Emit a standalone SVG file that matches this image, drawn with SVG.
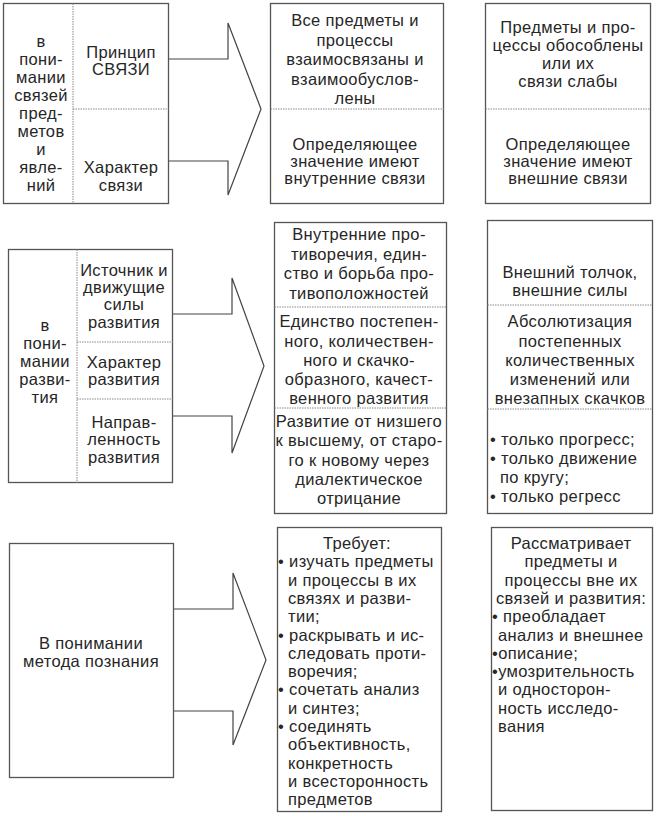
<svg xmlns="http://www.w3.org/2000/svg" width="657" height="816" viewBox="0 0 657 816">
<style>
.box{fill:#fff;stroke:#555;stroke-width:1.3}
.div{fill:none;stroke:#888;stroke-width:1;stroke-dasharray:1.5 1}
.arr{fill:#fff;stroke:#444;stroke-width:1.2;stroke-linejoin:miter}
text{font-family:"Liberation Sans",Arial,sans-serif;font-size:16.5px;letter-spacing:0.35px;fill:#262626}
.c{text-anchor:middle}
</style>
<rect width="657" height="816" fill="#fff"/>

<g id="connectors">
<path class="arr" d="M168,59 H228 V23 L261,109 L228,195 V161 H168"/>
<path class="arr" d="M172,314 H232 V278 L264,366 L232,453 V416 H172"/>
<path class="arr" d="M173,609 H233 V573 L266,660 L233,745 V711 H173"/>
</g>

<g id="n1-left">
<rect class="box" x="3.5" y="3.5" width="165" height="200"/>
<line class="div" x1="73" y1="3.5" x2="73" y2="203.5"/>
<line class="div" x1="73" y1="109" x2="168.5" y2="109"/>
<text class="c"><tspan x="41" y="47">в</tspan><tspan x="41" y="65">пони-</tspan><tspan x="41" y="83">мании</tspan><tspan x="41" y="101">связей</tspan><tspan x="41" y="119">пред-</tspan><tspan x="41" y="137">метов</tspan><tspan x="41" y="155">и</tspan><tspan x="41" y="173">явле-</tspan><tspan x="41" y="191">ний</tspan></text>
<text class="c"><tspan x="121" y="58">Принцип</tspan><tspan x="121" y="75">СВЯЗИ</tspan></text>
<text class="c"><tspan x="121" y="173">Характер</tspan><tspan x="121" y="191">связи</tspan></text>
</g>

<g id="n1-mid">
<rect class="box" x="270.5" y="3.5" width="173" height="200"/>
<line class="div" x1="270.5" y1="109" x2="443.5" y2="109"/>
<text class="c"><tspan x="355" y="26">Все предметы и</tspan><tspan x="355" y="45.5">процессы</tspan><tspan x="355" y="65">взаимосвязаны и</tspan><tspan x="355" y="84.5">взаимообуслов-</tspan><tspan x="355" y="104">лены</tspan></text>
<text class="c"><tspan x="355" y="150">Определяющее</tspan><tspan x="355" y="167">значение имеют</tspan><tspan x="355" y="184">внутренние связи</tspan></text>
</g>

<g id="n1-right">
<rect class="box" x="485.5" y="3.5" width="165" height="200"/>
<line class="div" x1="485.5" y1="109" x2="650.5" y2="109"/>
<text class="c"><tspan x="568" y="33">Предметы и про-</tspan><tspan x="568" y="51">цессы обособлены</tspan><tspan x="568" y="69">или их</tspan><tspan x="568" y="87">связи слабы</tspan></text>
<text class="c"><tspan x="568" y="150">Определяющее</tspan><tspan x="568" y="167">значение имеют</tspan><tspan x="568" y="184">внешние связи</tspan></text>
</g>

<g id="n2-left">
<rect class="box" x="8.5" y="249.5" width="164" height="233"/>
<line class="div" x1="77" y1="249.5" x2="77" y2="482.5"/>
<line class="div" x1="77" y1="342" x2="172.5" y2="342"/>
<line class="div" x1="77" y1="399" x2="172.5" y2="399"/>
<text class="c"><tspan x="45" y="331">в</tspan><tspan x="45" y="349">пони-</tspan><tspan x="45" y="367">мании</tspan><tspan x="45" y="385">разви-</tspan><tspan x="45" y="403">тия</tspan></text>
<text class="c"><tspan x="124" y="276">Источник и</tspan><tspan x="124" y="293">движущие</tspan><tspan x="124" y="310">силы</tspan><tspan x="124" y="328">развития</tspan></text>
<text class="c"><tspan x="124" y="368">Характер</tspan><tspan x="124" y="385">развития</tspan></text>
<text class="c"><tspan x="124" y="428">Направ-</tspan><tspan x="124" y="445">ленность</tspan><tspan x="124" y="463">развития</tspan></text>
</g>

<g id="n2-mid">
<rect class="box" x="274.5" y="222.5" width="172" height="291"/>
<line class="div" x1="274.5" y1="307" x2="446.5" y2="307"/>
<line class="div" x1="274.5" y1="408" x2="446.5" y2="408"/>
<text class="c"><tspan x="359" y="240">Внутренние про-</tspan><tspan x="359" y="259.5">тиворечия, един-</tspan><tspan x="359" y="279">ство и борьба про-</tspan><tspan x="359" y="298.5">тивоположностей</tspan></text>
<text class="c"><tspan x="359" y="327">Единство постепен-</tspan><tspan x="359" y="346.5">ного, количествен-</tspan><tspan x="359" y="366">ного и скачко-</tspan><tspan x="359" y="385">образного, качест-</tspan><tspan x="359" y="404">венного развития</tspan></text>
<text class="c"><tspan x="359" y="427">Развитие от низшего</tspan><tspan x="359" y="446">к высшему, от старо-</tspan><tspan x="359" y="465.5">го к новому через</tspan><tspan x="359" y="485">диалектическое</tspan><tspan x="359" y="504">отрицание</tspan></text>
</g>

<g id="n2-right">
<rect class="box" x="487.5" y="220.5" width="165" height="293"/>
<line class="div" x1="487.5" y1="305" x2="652.5" y2="305"/>
<line class="div" x1="487.5" y1="409" x2="652.5" y2="409"/>
<text class="c"><tspan x="570" y="278">Внешний толчок,</tspan><tspan x="570" y="296">внешние силы</tspan></text>
<text class="c"><tspan x="570" y="327">Абсолютизация</tspan><tspan x="570" y="346.5">постепенных</tspan><tspan x="570" y="366">количественных</tspan><tspan x="570" y="385">изменений или</tspan><tspan x="570" y="404">внезапных скачков</tspan></text>
<text><tspan x="490" y="445">• только прогресс;</tspan><tspan x="490" y="464">• только движение</tspan><tspan x="500" y="483">по кругу;</tspan><tspan x="490" y="502">• только регресс</tspan></text>
</g>

<g id="n3-left">
<rect class="box" x="9.5" y="543.5" width="164" height="234"/>
<text class="c"><tspan x="91" y="649">В понимании</tspan><tspan x="91" y="667">метода познания</tspan></text>
</g>

<g id="n3-mid">
<rect class="box" x="277.5" y="527.5" width="164" height="284"/>
<text class="c" x="357" y="549">Требует:</text>
<text><tspan x="278" y="567.3">• изучать предметы</tspan><tspan x="288" y="585.6">и процессы в их</tspan><tspan x="288" y="603.9">связях и разви-</tspan><tspan x="288" y="622.2">тии;</tspan><tspan x="278" y="640.5">• раскрывать и ис-</tspan><tspan x="288" y="658.8">следовать проти-</tspan><tspan x="288" y="677.1">воречия;</tspan><tspan x="278" y="695.4">• сочетать анализ</tspan><tspan x="288" y="713.7">и синтез;</tspan><tspan x="278" y="732">• соединять</tspan><tspan x="288" y="750.3">объективность,</tspan><tspan x="288" y="768.6">конкретность</tspan><tspan x="288" y="786.9">и всесторонность</tspan><tspan x="288" y="805.2">предметов</tspan></text>
</g>

<g id="n3-right">
<rect class="box" x="491.5" y="527.5" width="161" height="283"/>
<text class="c"><tspan x="571" y="549">Рассматривает</tspan><tspan x="571" y="567.3">предметы и</tspan><tspan x="571" y="585.6">процессы вне их</tspan><tspan x="571" y="603.9">связей и развития:</tspan></text>
<text><tspan x="492" y="622.2">• преобладает</tspan><tspan x="498" y="640.5">анализ и внешнее</tspan><tspan x="492" y="658.8">•описание;</tspan><tspan x="492" y="677.1">•умозрительность</tspan><tspan x="498" y="695.4">и односторон-</tspan><tspan x="498" y="713.7">ность исследо-</tspan><tspan x="498" y="732">вания</tspan></text>
</g>
</svg>
